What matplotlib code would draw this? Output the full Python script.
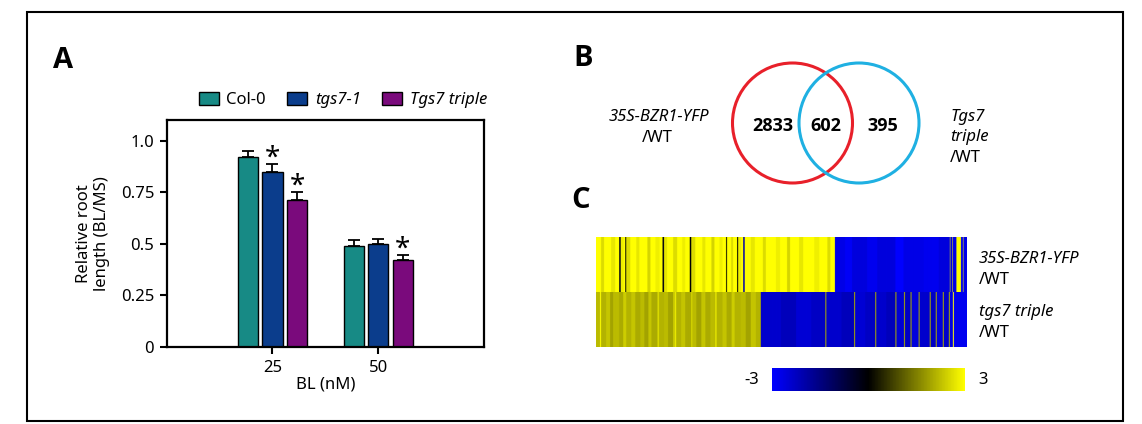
import numpy as np
import matplotlib
matplotlib.use('Agg')
import matplotlib.pyplot as plt
from matplotlib.colors import LinearSegmentedColormap, Normalize
from matplotlib.patches import Circle, Rectangle, Patch
from matplotlib.cm import ScalarMappable

plt.rcParams['font.family'] = ['Noto Sans', 'DejaVu Sans']
BOLD_FAMILY = ['Open Sans', 'DejaVu Sans']

# ---------------- Panel A data ----------------
doses = ['25', '50']
genotypes = ['Col-0', 'tgs7-1', 'Tgs7 triple']
col0 = [0.92, 0.49]
tgs7_1 = [0.85, 0.50]
tgs7_triple = [0.71, 0.42]
col0_err = [0.03, 0.03]
tgs7_1_err = [0.035, 0.022]
tgs7_triple_err = [0.04, 0.025]
significant = [[False, False], [True, False], [True, True]]
y_ticks = [0, 0.25, 0.5, 0.75, 1.0]
y_ticklabels = ['0', '0.25', '0.5', '0.75', '1.0']

# ---------------- Panel B data ----------------
only_bzr1 = 2833
shared = 602
only_triple = 395

# ---------------- Panel C data (run-length: value, width) ----------------
row1_segments = [
    (3.0, 10), (2.6, 6), (3.0, 14), (2.7, 8), (3.0, 8), (-0.3, 3), (2.8, 6), (3.0, 3),
    (0.2, 2), (2.6, 8), (3.0, 12), (2.7, 6), (3.0, 16), (2.5, 6), (3.0, 10), (2.8, 8), (3.0, 6),
    (-0.2, 3), (2.7, 6), (3.0, 12), (2.6, 8), (3.0, 10), (2.8, 6), (3.0, 9),
    (0.0, 3), (2.6, 8), (3.0, 14), (2.7, 6), (3.0, 12), (2.5, 6), (3.0, 10), (2.8, 6), (3.0, 7),
    (0.3, 2), (3.0, 8), (2.6, 4), (3.0, 8), (0.0, 2), (2.8, 6), (3.0, 4), (-2.0, 3),
    (3.0, 12), (2.7, 8), (3.0, 16), (2.6, 6), (3.0, 20), (2.8, 8), (3.0, 14), (2.5, 6),
    (3.0, 18), (2.7, 8), (3.0, 22), (2.8, 10), (3.0, 16), (2.6, 6), (3.0, 9),
    (-2.7, 20), (-2.9, 14), (-2.6, 30), (-2.8, 20), (-2.6, 36), (-3.0, 16), (-2.7, 40),
    (-2.8, 30), (-2.6, 22),
    (3.0, 1), (-2.6, 4), (3.0, 1), (-2.7, 7), (3.0, 9), (-2.8, 4), (3.0, 1), (-2.7, 11),
]
row2_segments = [
    (2.2, 8), (3.0, 2), (2.1, 10), (2.3, 8), (1.9, 6), (2.2, 12), (2.0, 8), (2.4, 6), (2.1, 10), (2.3, 8),
    (2.0, 10), (2.2, 8), (1.9, 8), (2.3, 6), (2.0, 12), (2.6, 3), (2.1, 10), (2.2, 8), (1.9, 10), (2.4, 4),
    (2.8, 2), (2.1, 10), (2.3, 8), (2.0, 12), (2.6, 2), (2.2, 8), (1.9, 10), (2.3, 8), (2.0, 10), (2.2, 10),
    (2.9, 2), (2.1, 12), (2.3, 8), (2.0, 10), (2.4, 6), (2.1, 12), (2.2, 10), (1.9, 10), (2.3, 10), (2.1, 10),
    (-2.4, 40), (-2.2, 30), (-2.5, 30), (-2.3, 28), (2.0, 2), (-2.4, 30), (-2.2, 25), (2.0, 2),
    (-2.5, 20), (-2.3, 20), (2.0, 2), (-2.4, 20), (-2.2, 18), (2.0, 2), (-2.5, 15), (2.0, 2),
    (-2.3, 11), (2.0, 2), (-2.6, 14), (2.0, 2), (-2.4, 20), (2.0, 2), (-2.3, 10), (2.0, 2),
    (-2.6, 12), (2.0, 2), (-2.4, 10), (2.0, 2), (-2.7, 6), (3.0, 2), (-2.8, 26),
]
cbar_min, cbar_max = -3, 3

# ---------------- Figure ----------------
W, H = 1142, 424
fig = plt.figure(figsize=(W / 100, H / 100), dpi=100)

def fx(px):
    return px / W

def fy(py):
    return 1 - py / H

# overlay axes in pixel coordinates
ov = fig.add_axes([0, 0, 1, 1])
ov.set_xlim(0, W)
ov.set_ylim(H, 0)
ov.axis('off')
ov.add_patch(Rectangle((27, 12), 1096, 409, fill=False, lw=1.5, ec='black'))

# panel letters
for lbl, x, y in [('A', 63, 60), ('B', 583, 58), ('C', 581, 201)]:
    ov.text(x, y, lbl, fontsize=21, fontweight='bold', family=BOLD_FAMILY,
            ha='center', va='center')

# ---------------- Panel A ----------------
ax = fig.add_axes([fx(166.7), fy(347), fx(484) - fx(166.7), fy(120) - fy(347)])
colors = ['#178a85', '#0b3d8c', '#7a0a7c']
series = [col0, tgs7_1, tgs7_triple]
errs = [col0_err, tgs7_1_err, tgs7_triple_err]
x = np.arange(len(doses))
bw = 0.19
step = 0.232
for i, (vals, err, c) in enumerate(zip(series, errs, colors)):
    xi = x + (i - 1) * step
    ax.bar(xi, vals, width=bw, color=c, edgecolor='black', linewidth=1.0, zorder=2)
    ax.errorbar(xi, vals, yerr=[np.zeros(len(err)), err], fmt='none', ecolor='black',
                elinewidth=1.3, capsize=4, capthick=1.3, zorder=3)
    for j in range(len(doses)):
        if significant[i][j]:
            ax.annotate('*', (xi[j], vals[j] + err[j]), xytext=(0, 4), textcoords='offset points',
                        ha='center', va='center', fontsize=20)
ax.set_xlim(-1, 2)
ax.set_ylim(0, 1.1)
ax.set_xticks(x)
ax.set_xticklabels(doses, fontsize=12)
ax.set_yticks(y_ticks)
ax.set_yticklabels(y_ticklabels, fontsize=12)
for s in ax.spines.values():
    s.set_linewidth(1.6)
ax.tick_params(direction='out', length=5, width=1.5, pad=4)
ax.set_xlabel('BL (nM)', fontsize=12, labelpad=1)
ax.set_ylabel('Relative root\nlength (BL/MS)', fontsize=12, labelpad=8, linespacing=1.1)

handles = [Patch(facecolor=c, edgecolor='black', linewidth=1.0) for c in colors]
leg = fig.legend(handles, genotypes, loc='center', bbox_to_anchor=(fx(343), fy(100)), ncol=3,
                 frameon=False, fontsize=12, handlelength=1.2, handleheight=0.8,
                 handletextpad=0.45, columnspacing=1.3)
for t in leg.get_texts()[1:]:
    t.set_fontstyle('italic')

# ---------------- Panel B (Venn) ----------------
ov.add_patch(Circle((792.5, 123), 60, fill=False, ec='#e8202a', lw=2.2))
ov.add_patch(Circle((859, 123), 60, fill=False, ec='#1fb0e2', lw=2.2))
for val, xx in [(only_bzr1, 773), (shared, 826), (only_triple, 883)]:
    ov.text(xx, 126, str(val), fontsize=13, fontweight='bold', family=BOLD_FAMILY,
            ha='center', va='center')
ov.text(659, 117, '35S-BZR1-YFP', fontsize=12, style='italic', ha='center', va='center')
ov.text(657, 138, '/WT', fontsize=12, ha='center', va='center')
ov.text(950, 117, 'Tgs7', fontsize=12, style='italic', ha='left', va='center')
ov.text(950, 137, 'triple', fontsize=12, style='italic', ha='left', va='center')
ov.text(950, 158, '/WT', fontsize=12, ha='left', va='center')

# ---------------- Panel C (heatmap) ----------------
cmap = LinearSegmentedColormap.from_list('byk', ['#0000ff', '#000000', '#ffff00'])
norm = Normalize(vmin=cbar_min, vmax=cbar_max)

def expand(segs):
    return np.concatenate([np.full(n, v) for v, n in segs])

r1 = expand(row1_segments)
r2 = expand(row2_segments)
n = min(len(r1), len(r2))
mat = np.vstack([np.repeat(r1[None, :n], 55, axis=0), np.repeat(r2[None, :n], 55, axis=0)])
axh = fig.add_axes([fx(596), fy(347), fx(966.7) - fx(596), fy(237) - fy(347)])
axh.imshow(mat, cmap=cmap, norm=norm, aspect='auto', interpolation='antialiased',
           interpolation_stage='rgba')
axh.axis('off')

ov.text(979, 259, '35S-BZR1-YFP', fontsize=12, style='italic', ha='left', va='center')
ov.text(979, 280, '/WT', fontsize=12, ha='left', va='center')
ov.text(979, 312, 'tgs7 triple', fontsize=12, style='italic', ha='left', va='center')
ov.text(979, 333, '/WT', fontsize=12, ha='left', va='center')

cax = fig.add_axes([fx(772), fy(391), fx(965) - fx(772), fy(368) - fy(391)])
cb = fig.colorbar(ScalarMappable(norm=norm, cmap=cmap), cax=cax, orientation='horizontal')
cb.outline.set_visible(False)
cb.set_ticks([])
ov.text(752, 380, str(cbar_min), fontsize=12, ha='center', va='center')
ov.text(983, 380, str(cbar_max), fontsize=12, ha='center', va='center')

fig.savefig('out.png', dpi=100)
